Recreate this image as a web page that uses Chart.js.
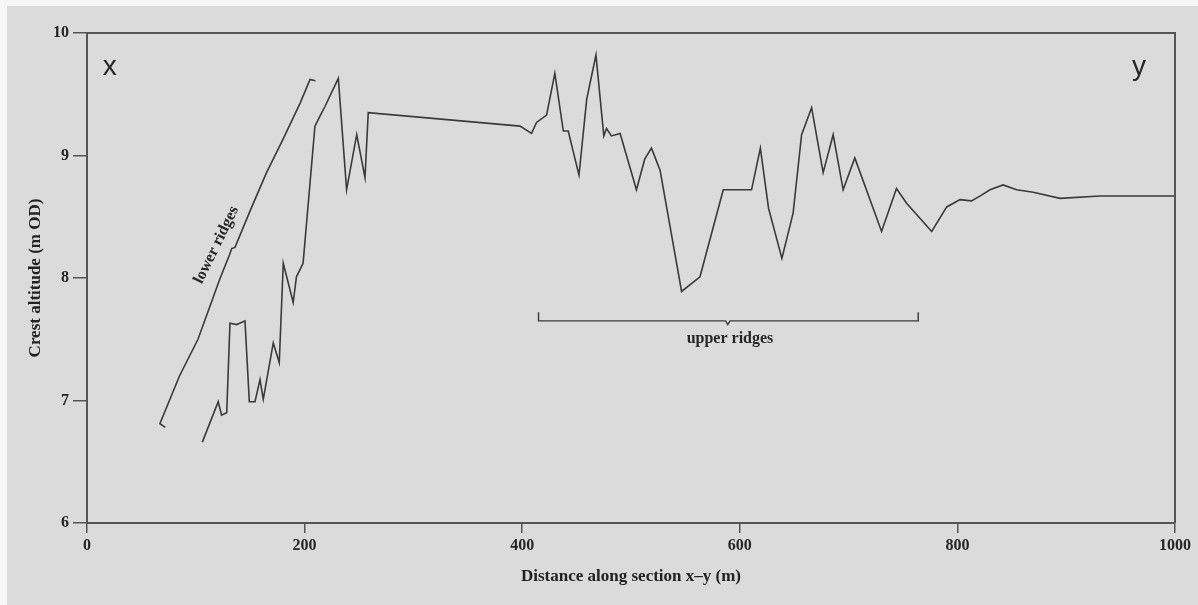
<!DOCTYPE html>
<html>
<head>
<meta charset="utf-8">
<script src="https://cdn.jsdelivr.net/npm/chart.js@4.4.0/dist/chart.umd.min.js"></script>
<style>
  html, body { margin: 0; padding: 0; background: #fff; }
  #wrap { width: 1198px; height: 605px; }
</style>
</head>
<body>
<div id="wrap"><canvas id="crest" width="1198" height="605"></canvas></div>
<script>
// distance along section (m) and crest altitude (m OD)
const lowerDist = [72, 67, 85, 102, 122, 131, 133, 136, 150, 165, 180, 196, 205, 210];
const lowerAlt  = [6.78, 6.81, 7.20, 7.50, 7.99, 8.19, 8.24, 8.25, 8.55, 8.86, 9.13, 9.43, 9.62, 9.61];

const upperDist = [106, 120.6, 123.7, 128.4, 131.4, 137.6, 145.2, 149.2, 154.4, 159, 162, 171.2, 176.7,
  180.4, 189.5, 192.5, 198.6, 209.5, 214, 218.7, 231, 238.6, 247.9, 255.5, 258.5, 398, 408.6, 413.2,
  422.4, 430, 437.8, 442.3, 452.2, 459.3, 467.8, 475, 477.5, 482, 490, 505, 512.6, 518.8, 526.7,
  546.5, 563.4, 584.8, 610.8, 618.9, 626.4, 638.7, 649, 656.8, 666, 676.6, 685.8, 695, 705.7,
  730.3, 744, 753.3, 776.4, 790.2, 802.4, 813, 821, 830, 842, 854.4, 869.7, 894.3, 931, 1000];
const upperAlt = [6.66, 6.99, 6.88, 6.90, 7.63, 7.62, 7.65, 6.99, 6.99, 7.17, 7.01, 7.47, 7.31,
  8.12, 7.80, 8.01, 8.12, 9.24, 9.32, 9.40, 9.63, 8.72, 9.17, 8.82, 9.35, 9.24, 9.18, 9.27,
  9.33, 9.67, 9.20, 9.20, 8.84, 9.46, 9.82, 9.16, 9.22, 9.16, 9.18, 8.72, 8.97, 9.06, 8.88,
  7.89, 8.01, 8.72, 8.72, 9.06, 8.57, 8.16, 8.53, 9.17, 9.39, 8.86, 9.17, 8.72, 8.98,
  8.38, 8.73, 8.61, 8.38, 8.58, 8.64, 8.63, 8.67, 8.72, 8.76, 8.72, 8.70, 8.65, 8.67, 8.67];

// bracket marking the upper ridges
const bracketDist = [415, 415, 587, 589, 591, 764, 764];
const bracketAlt  = [7.72, 7.65, 7.65, 7.62, 7.65, 7.65, 7.72];

const xTicks = [0, 200, 400, 600, 800, 1000];
const yTicks = [6, 7, 8, 9, 10];

const serif = '"Liberation Serif", "Times New Roman", serif';

// text notes in data units
const notes = [
  { text: 'x', x: 21, y: 9.72, font: '28px "Liberation Sans", Arial, sans-serif', rot: 0 },
  { text: 'y', x: 967, y: 9.72, font: '28px "Liberation Sans", Arial, sans-serif', rot: 0 },
  { text: 'lower ridges', x: 119, y: 8.27, font: 'bold 16px ' + serif, rot: -64 },
  { text: 'upper ridges', x: 591, y: 7.50, font: 'bold 16px ' + serif, rot: 0 }
];

const ink = '#3a3a3a';
const toPts = (xs, ys) => xs.map((x, i) => ({ x: x, y: ys[i] }));

const paper = {
  id: 'paper',
  beforeDraw(chart) {
    const c = chart.ctx;
    c.save();
    c.fillStyle = '#dbdbdb';
    c.fillRect(0, 0, chart.width, chart.height);
    c.fillStyle = '#f6f6f6';
    c.fillRect(0, 0, chart.width, 6);
    c.fillRect(0, 0, 7, chart.height);
    c.restore();
  },
  afterDraw(chart) {
    const c = chart.ctx;
    const a = chart.chartArea;
    const xs = chart.scales.x, ys = chart.scales.y;
    c.save();
    // top and right frame
    c.strokeStyle = '#555';
    c.lineWidth = 2;
    c.beginPath();
    c.moveTo(a.left, a.top);
    c.lineTo(a.right, a.top);
    c.lineTo(a.right, a.bottom);
    c.stroke();
    c.fillStyle = '#262626';
    c.textAlign = 'center';
    c.textBaseline = 'middle';
    notes.forEach(n => {
      c.save();
      c.translate(xs.getPixelForValue(n.x), ys.getPixelForValue(n.y));
      c.rotate(n.rot * Math.PI / 180);
      c.font = n.font;
      c.fillText(n.text, 0, 0);
      c.restore();
    });
    c.restore();
  }
};

new Chart(document.getElementById('crest').getContext('2d'), {
  type: 'scatter',
  data: {
    datasets: [
      { label: 'upper', data: toPts(upperDist, upperAlt), borderColor: ink, borderWidth: 1.6 },
      { label: 'lower ridges', data: toPts(lowerDist, lowerAlt), borderColor: ink, borderWidth: 1.6 },
      { label: 'bracket', data: toPts(bracketDist, bracketAlt), borderColor: ink, borderWidth: 1.4 }
    ]
  },
  options: {
    responsive: false,
    animation: false,
    devicePixelRatio: 1,
    layout: { padding: { top: 33, right: 23, left: 0, bottom: 0 } },
    datasets: {
      scatter: { showLine: true, pointRadius: 0, tension: 0 }
    },
    plugins: {
      legend: { display: false },
      tooltip: { enabled: false }
    },
    scales: {
      x: {
        type: 'linear',
        min: 0,
        max: 1000,
        afterBuildTicks: s => { s.ticks = xTicks.map(v => ({ value: v })); },
        afterFit: s => { s.height = 82; },
        ticks: {
          color: '#262626', padding: 3,
          font: { family: serif, size: 16, weight: 'bold' },
          callback: v => String(v)
        },
        grid: { drawOnChartArea: false, tickLength: 10, color: '#555', lineWidth: 1.5 },
        border: { color: '#555', width: 2 },
        title: {
          display: true,
          text: 'Distance along section x–y (m)',
          color: '#222',
          font: { family: serif, size: 17, weight: 'bold' },
          padding: { top: 0, bottom: 18 }
        }
      },
      y: {
        min: 6,
        max: 10,
        afterBuildTicks: s => { s.ticks = yTicks.map(v => ({ value: v })); },
        afterFit: s => { s.width = 87; },
        ticks: { color: '#262626', padding: 4, font: { family: serif, size: 16, weight: 'bold' } },
        grid: { drawOnChartArea: false, tickLength: 14, color: '#555', lineWidth: 1.5 },
        border: { color: '#555', width: 2 },
        title: {
          display: true,
          text: 'Crest altitude (m OD)',
          color: '#222',
          font: { family: serif, size: 17, weight: 'bold' },
          padding: { top: 25, bottom: 0 }
        }
      }
    }
  },
  plugins: [paper]
});
</script>
</body>
</html>
